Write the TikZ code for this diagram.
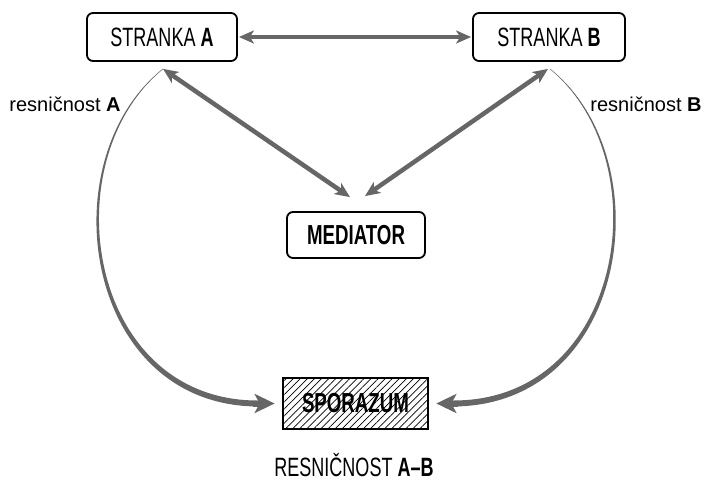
\documentclass[tikz,border=0pt]{standalone}
\usepackage{fontspec}
\setmainfont[FakeStretch=0.68]{Liberation Sans}
\newfontfamily\labfont{Liberation Sans}
\usetikzlibrary{arrows.meta,calc,patterns.meta}
\definecolor{arrgray}{HTML}{666666}
\begin{document}
\begin{tikzpicture}[x=1pt,y=-1pt,
  box/.style={draw=black, line width=1.8pt, rounded corners=6pt, fill=white,
    minimum height=48pt, inner sep=0pt, font=\fontsize{26.5}{30}\selectfont},
  hatchbox/.style={draw=black, line width=1.2pt, inner sep=0pt,
    pattern={Lines[angle=45,distance=5pt,line width=0.7pt]},
    minimum width=145pt, minimum height=51pt, font=\fontsize{27.5}{30}\selectfont\bfseries},
  conn/.style={draw=arrgray, line width=4.5pt,
    {Stealth[length=15pt,width=13pt,inset=4pt]}-{Stealth[length=15pt,width=13pt,inset=4pt]}},
  tipcurve/.style={draw=arrgray, line width=6pt, -{Stealth[length=20pt,width=19pt,inset=5pt]}},
  lab/.style={font=\labfont\fontsize{20}{24}\selectfont},
  captext/.style={font=\fontsize{26.5}{30}\selectfont}
]
\useasboundingbox (0,0) rectangle (706,481);

\node[box, minimum width=150pt] (A) at (162,37) {STRANKA \textbf{A}};
\node[box, minimum width=152pt] (B) at (549,37) {STRANKA \textbf{B}};
\node[box, minimum width=138pt, minimum height=46pt, font=\fontsize{27.5}{30}\selectfont\bfseries] (M) at (356,235) {MEDIATOR};
\node[hatchbox] (S) at (355.5,403.5) {SPORAZUM};

\node[lab] (la) at (65,104) {resničnost \textbf{A}};
\node[lab] (lb) at (646,104) {resničnost \textbf{B}};
\node[captext] (rab) at (354,465) {RESNIČNOST \textbf{A--B}};

% straight double arrows
\draw[conn, shorten <=1pt, shorten >=1pt] (A.east) -- (B.west);
\draw[conn] ($(A.south)+(1,7)$) -- ($(M.north)+(-6,-14)$);
\draw[conn] ($(B.south)+(-1,7)$) -- ($(M.north)+(9,-15)$);

% tapered curves
\coordinate (L0) at ($(A.south)+(1,7)$);
\coordinate (R0) at ($(B.south)+(1,7)$);
\fill[arrgray] (L0) .. controls (51.3,161.5) and (87.5,400.5) .. ($(S.west)+(-25,-3)$)
  -- ($(S.west)+(-25,3)$) .. controls (82.5,405.5) and (48.7,158.5) .. (L0) -- cycle;
\draw[arrgray, line width=0.4pt] (L0) .. controls (50,160) and (85,403) .. ($(S.west)+(-25,0)$);
\fill[arrgray] (R0) .. controls (660.7,161.5) and (624.5,400.5) .. ($(S.east)+(25,-3)$)
  -- ($(S.east)+(25,3)$) .. controls (629.5,405.5) and (663.3,158.5) .. (R0) -- cycle;
\draw[arrgray, line width=0.4pt] (R0) .. controls (662,160) and (627,403) .. ($(S.east)+(25,0)$);
\draw[tipcurve] ($(S.west)+(-30,0)$) -- ($(S.west)+(-8,0)$);
\draw[tipcurve] ($(S.east)+(30,0)$) -- ($(S.east)+(8,0)$);
\end{tikzpicture}
\end{document}
